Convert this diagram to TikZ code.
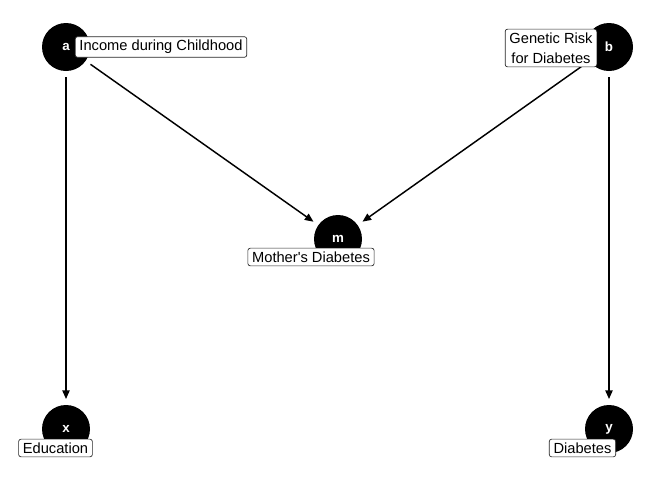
\documentclass[tikz,border=0pt]{standalone}
\usepackage{fontspec}
\setmainfont{Liberation Sans}
\usetikzlibrary{arrows.meta}
\begin{document}
\begin{tikzpicture}[x=0.75pt,y=-0.75pt,
  dagnode/.style={circle,fill=black,minimum size=36pt,inner sep=0pt,outer sep=0pt,
    text=white,font=\fontsize{10pt}{11pt}\selectfont\bfseries},
  lbl/.style={draw=black!85,fill=white,rounded corners=1.8pt,line width=0.5pt,
    font=\fontsize{11pt}{15pt}\selectfont,inner xsep=3.2pt,inner ysep=2.6pt,
    align=center},
  edge/.style={line width=1.1pt,-{Triangle[length=6.5pt,width=5.5pt]},
    shorten <=4.5pt,shorten >=4.5pt}]
\useasboundingbox (0,0) rectangle (672,480);
\node[dagnode] (a) at (66,47) {a};
\node[dagnode] (b) at (609,47) {b};
\node[dagnode] (m) at (338,239) {m};
\node[dagnode] (x) at (66,429) {x};
\node[dagnode] (y) at (609,429) {y};
\draw[edge] (a) -- (x);
\draw[edge] (a) -- (m);
\draw[edge] (b) -- (m);
\draw[edge] (b) -- (y);
\node[lbl] (la) at (161,47) {Income during Childhood};
\node[lbl] (lb) at (551,48) {Genetic Risk\\for Diabetes};
\node[lbl] (lm) at (311,257) {Mother\textquotesingle s Diabetes};
\node[lbl] (lx) at (55.5,448) {Education};
\node[lbl] (ly) at (582.5,448) {Diabetes};
\end{tikzpicture}
\end{document}
